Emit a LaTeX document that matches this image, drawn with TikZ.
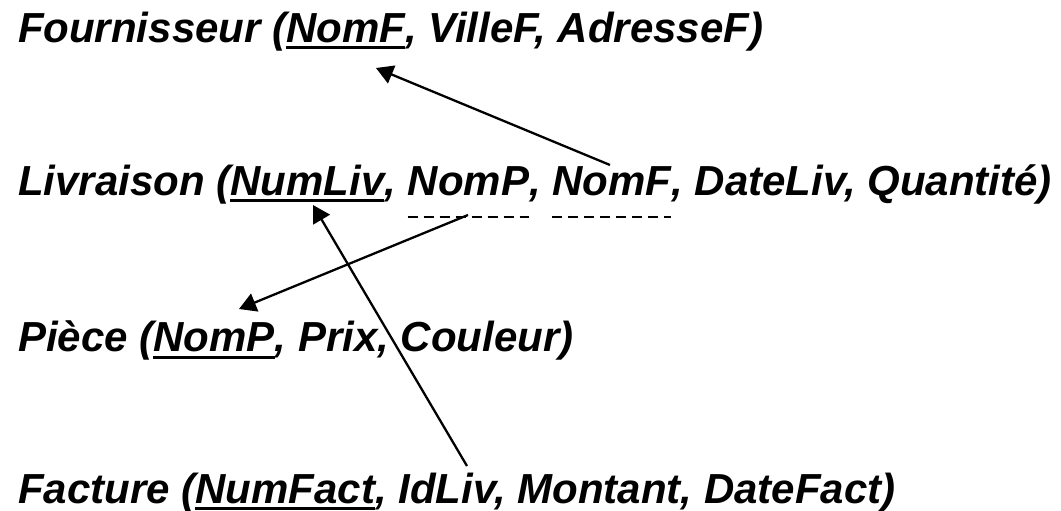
\documentclass[tikz,border=0pt]{standalone}
\usepackage{fontspec}
\setmainfont{Liberation Sans}
\usetikzlibrary{arrows.meta,calc}
\begin{document}
\begin{tikzpicture}[x=1pt,y=-1pt,
  txt/.style={inner sep=0pt, outer sep=0pt, anchor=base west, font=\fontsize{42}{50}\selectfont\bfseries\itshape},
  ul/.style={line width=3pt},
  dul/.style={line width=2pt, dash pattern=on 10pt off 6pt},
  lnk/.style={line width=2.3pt, -{Triangle[length=17pt,width=19pt]}}]
\useasboundingbox (0,0) rectangle (1061,511);
% Fournisseur
\node[txt] (f1) at (18,43) {Fournisseur (};
\node[txt] (f2) at (f1.base east) {NomF};
\node[txt] (f3) at (f2.base east) {, VilleF, AdresseF)};
\draw[ul] ([yshift=-5pt]f2.base west) -- ([yshift=-5pt]f2.base east);
% Livraison
\node[txt] (l1) at (18,195) {Livraison (};
\node[txt] (l2) at (l1.base east) {NumLiv};
\node[txt] (l3) at (l2.base east) {,\kern0.278em};
\node[txt] (l4) at (l3.base east) {NomP};
\node[txt] (l5) at (l4.base east) {,\kern0.278em};
\node[txt] (l6) at (l5.base east) {NomF};
\node[txt] (l7) at (l6.base east) {, DateLiv, Quantité)};
\draw[ul] ([yshift=-5pt]l2.base west) -- ([yshift=-5pt]l2.base east);
\draw[dul] ([yshift=-22pt]l4.base west) -- ([yshift=-22pt]l4.base east);
\draw[dul] ([yshift=-22pt]l6.base west) -- ([yshift=-22pt]l6.base east);
% Piece
\node[txt] (p1) at (18,351) {Pièce (};
\node[txt] (p2) at (p1.base east) {NomP};
\node[txt] (p3) at (p2.base east) {, Prix, Couleur)};
\draw[ul] ([yshift=-6pt]p2.base west) -- ([yshift=-6pt]p2.base east);
% Facture
\node[txt] (c1) at (18,503) {Facture (};
\node[txt] (c2) at (c1.base east) {NumFact};
\node[txt] (c3) at (c2.base east) {, IdLiv, Montant, DateFact)};
\draw[ul] ([yshift=-5pt]c2.base west) -- ([yshift=-5pt]c2.base east);
% connectors
\coordinate (s1) at (610,165);
\coordinate (t1) at (376,68);
\coordinate (s2) at (468,215);
\coordinate (t2) at (239,309);
\coordinate (s3) at (467,466);
\coordinate (t3) at (313,205);
\draw[lnk] (s1) -- (t1);
\draw[lnk] (s2) -- (t2);
\draw[lnk] (s3) -- (t3);
\end{tikzpicture}
\end{document}
